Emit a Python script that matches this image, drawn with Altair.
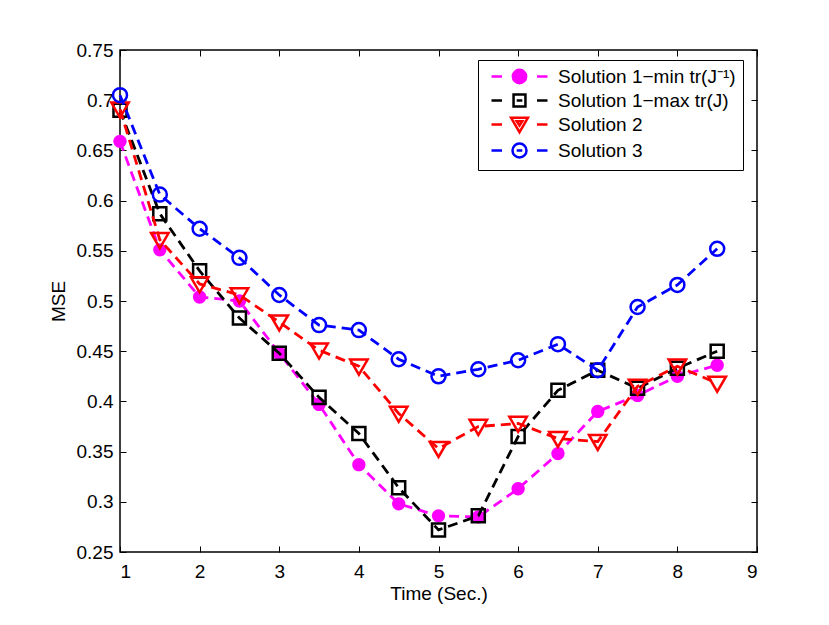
import altair as alt
import pandas as pd

# ---------------- data ----------------
series_names = [
    "Solution 1\u2212min tr(J\u207b\u00b9)",
    "Solution 1\u2212max tr(J)",
    "Solution 2",
    "Solution 3",
]
colors = ["#FF00FF", "#000000", "#FF0000", "#0000FF"]
fills = ["#FF00FF", "transparent", "transparent", "transparent"]

time_sec = [1, 1.5, 2, 2.5, 3, 3.5, 4, 4.5, 5, 5.5, 6, 6.5, 7, 7.5, 8, 8.5]
sol1_min = [0.659, 0.551, 0.504, 0.500, 0.448, 0.397, 0.337, 0.298, 0.286, 0.285,
            0.313, 0.348, 0.390, 0.406, 0.425, 0.436]
sol1_max = [0.690, 0.587, 0.530, 0.483, 0.448, 0.404, 0.368, 0.314, 0.272, 0.286,
            0.365, 0.411, 0.431, 0.413, 0.433, 0.450]
sol2 = [0.691, 0.561, 0.517, 0.506, 0.479, 0.451, 0.435, 0.388, 0.353, 0.375,
        0.378, 0.363, 0.360, 0.415, 0.435, 0.418]
sol3 = [0.705, 0.606, 0.572, 0.543, 0.506, 0.476, 0.471, 0.442, 0.425, 0.432,
        0.441, 0.457, 0.431, 0.494, 0.516, 0.552]

x_ticks = [1, 2, 3, 4, 5, 6, 7, 8, 9]
y_ticks = [0.25, 0.3, 0.35, 0.4, 0.45, 0.5, 0.55, 0.6, 0.65, 0.7, 0.75]

all_values = [sol1_min, sol1_max, sol2, sol3]
rows = []
for name, vals in zip(series_names, all_values):
    for t, v in zip(time_sec, vals):
        rows.append({"series": name, "t": t, "mse": v})
df = pd.DataFrame(rows)

# ---------------- styling ----------------
W, H = 637, 502
FONT = "Liberation Sans"

# marker shapes (unit coordinates, scaled by sqrt(size)/2)
circle = "M1,0A1,1,0,1,1,-1,0A1,1,0,1,1,1,0Z"
dot = "M0.95,0A0.95,0.95,0,1,1,-0.95,0A0.95,0.95,0,1,1,0.95,0Z"
square = "M-0.93,-0.93H0.93V0.93H-0.93Z"
tri_down = "M-1.25,-0.95L1.25,-0.95L0,1.2Z"
plot_shapes = [dot, square, tri_down, circle]

dashes = "M-4.0,0H-2.5M2.5,0H4.0"
legend_shapes = [
    dashes + dot,
    dashes + "M-0.85,-0.85H0.85V0.85H-0.85ZM-0.4,0H0.4",
    dashes + "M-1.2,-0.95L1.2,-0.95L0,1.1ZM-0.4,-0.45H0.4L0,0.15Z",
    dashes + circle + "M-0.4,0H0.4",
]

xs = alt.Scale(domain=[1, 9], nice=False, zero=False)
ys = alt.Scale(domain=[0.25, 0.75], nice=False, zero=False)
cs = alt.Scale(domain=series_names, range=colors)

ax_x_main = alt.Axis(orient="bottom", values=x_ticks, format="d", ticks=False,
                     domain=False, grid=False, labelPadding=10,
                     title="Time (Sec.)", titlePadding=3)
ax_y_main = alt.Axis(orient="left", values=y_ticks, format=".2~f", ticks=False,
                     domain=False, grid=False, labelPadding=7,
                     title="MSE", titlePadding=8)
# inward ticks: axes flipped to the opposite side
ax_x_bot_in = alt.Axis(orient="top", offset=-H, values=x_ticks, labels=False,
                       domain=False, grid=False, ticks=True, tickSize=6, title="")
ax_y_left_in = alt.Axis(orient="right", offset=-W, values=y_ticks, labels=False,
                        domain=False, grid=False, ticks=True, tickSize=6, title="")
ax_x_top_in = alt.Axis(orient="bottom", offset=-H, values=x_ticks, labels=False,
                       domain=False, grid=False, ticks=True, tickSize=6, title="")
ax_y_right_in = alt.Axis(orient="left", offset=-W, values=y_ticks, labels=False,
                         domain=False, grid=False, ticks=True, tickSize=6, title="")

axis_pairs = [(ax_x_main, ax_y_main), (ax_x_bot_in, ax_y_left_in),
              (ax_x_top_in, ax_y_right_in)]

layers = []
k = 0
for i, name in enumerate(series_names):
    base = alt.Chart(df).transform_filter(
        alt.FieldEqualPredicate(field="series", equal=name))
    for kind in ("line", "point"):
        if k < len(axis_pairs):
            axx, axy = axis_pairs[k]
        else:
            axx, axy = None, None
        k += 1
        enc = dict(
            x=alt.X("t:Q", scale=xs, axis=axx),
            y=alt.Y("mse:Q", scale=ys, axis=axy),
        )
        if kind == "line":
            layers.append(base.mark_line(strokeDash=[10, 6], strokeWidth=2.8,
                                         color=colors[i], opacity=1
                                         ).encode(order="t:Q", **enc))
        else:
            layers.append(base.mark_point(shape=plot_shapes[i], size=196,
                                          filled=(i == 0), strokeWidth=2.5,
                                          color=colors[i], opacity=1
                                          ).encode(**enc))

leg = alt.Legend(
    title=None, orient="none", legendX=358, legendY=10,
    padding=7, strokeColor="black", fillColor="white",
    labelFont=FONT, labelFontSize=19, labelColor="black", labelLimit=400,
    rowPadding=0, symbolOffset=25, labelOffset=29,
    symbolSize=196, symbolStrokeWidth=2.5,
)

legend_layer = alt.Chart(df).transform_filter("false").mark_point(
    filled=False, size=196, strokeWidth=2.5, opacity=1
).encode(
    x=alt.X("t:Q", scale=xs, axis=None),
    y=alt.Y("mse:Q", scale=ys, axis=None),
    color=alt.Color("series:N", scale=cs, legend=leg),
    shape=alt.Shape("series:N", scale=alt.Scale(domain=series_names, range=legend_shapes), legend=leg),
    fill=alt.Fill("series:N", scale=alt.Scale(domain=series_names, range=fills), legend=leg),
)
layers.append(legend_layer)

chart = alt.layer(*layers).resolve_axis(
    x="independent", y="independent"
).properties(
    width=W, height=H,
    autosize=alt.AutoSizeParams(type="none"),
    padding={"left": 120, "top": 50, "right": 72, "bottom": 73},
    background="white",
).configure_axis(
    labelFont=FONT, titleFont=FONT, labelFontSize=19, titleFontSize=19,
    labelColor="black", titleColor="black", titleFontWeight="normal",
    tickColor="black", tickWidth=1,
).configure_view(stroke="black", strokeWidth=1.5)

chart.save("out.html", embed_options={"renderer": "svg", "actions": False})
